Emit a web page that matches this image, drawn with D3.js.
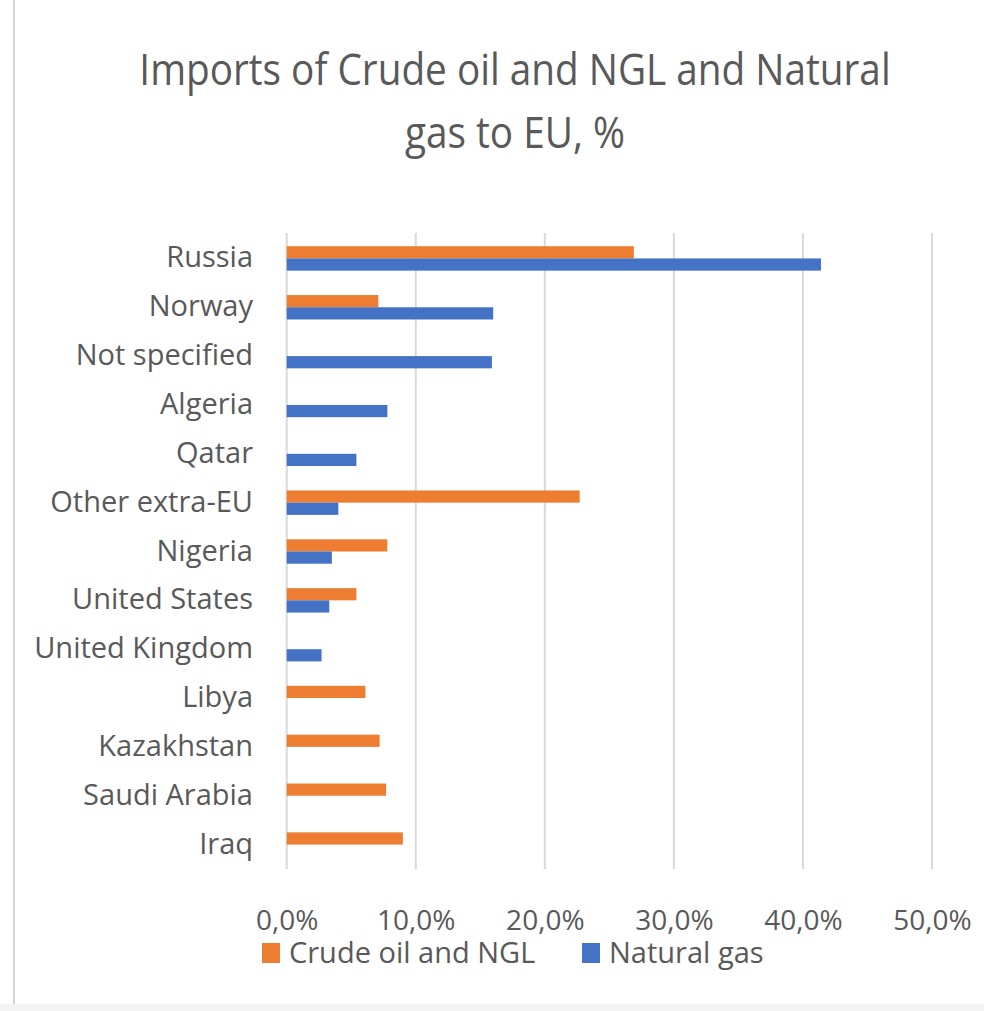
<!DOCTYPE html>
<html>
<head>
<meta charset="utf-8">
<script src="https://cdn.jsdelivr.net/npm/d3@7"></script>
<style>
  html, body { margin: 0; padding: 0; background: #fff; }
  svg { display: block; font-family: "Open Sans", sans-serif; }
</style>
</head>
<body>
<div id="chart"></div>
<script>
const categories = ["Russia", "Norway", "Not specified", "Algeria", "Qatar", "Other extra-EU",
  "Nigeria", "United States", "United Kingdom", "Libya", "Kazakhstan", "Saudi Arabia", "Iraq"];
const crudeOil = [26.9, 7.1, null, null, null, 22.7, 7.8, 5.4, null, 6.1, 7.2, 7.7, 9.0];
const naturalGas = [41.4, 16.0, 15.9, 7.8, 5.4, 4.0, 3.5, 3.3, 2.7, null, null, null, null];
const seriesNames = ["Crude oil and NGL", "Natural gas"];
const xTicks = [0, 10, 20, 30, 40, 50];
const titleLines = ["Imports of Crude oil and NGL and Natural", "gas to EU, %"];

const W = 984, H = 1011;
const colors = ["#ED7D31", "#4472C4"];
const textColor = "#595959";

const svg = d3.select("#chart").append("svg").attr("width", W).attr("height", H);
svg.append("rect").attr("width", W).attr("height", H).attr("fill", "#fff");

// frame edges
svg.append("rect").attr("x", 0).attr("y", 1004).attr("width", W).attr("height", 7).attr("fill", "#f3f3f3");
svg.append("line").attr("x1", 14).attr("x2", 14).attr("y1", 0).attr("y2", 1004)
  .attr("stroke", "#d4d4d4").attr("stroke-width", 2);

// title
const titleY = [85, 148];
titleLines.forEach((t, i) => {
  svg.append("text")
    .attr("transform", `translate(515,${titleY[i]}) scale(0.88,1)`)
    .attr("text-anchor", "middle")
    .attr("font-size", 44)
    .attr("fill", textColor)
    .text(t);
});

const x = d3.scaleLinear().domain([0, 50]).range([286.7, 932]);
const y = d3.scaleBand().domain(categories).range([234, 869]).paddingInner(0.5).paddingOuter(0.25);
const ySub = d3.scaleBand().domain(seriesNames).range([0, y.bandwidth()]);

// gridlines
svg.append("g").selectAll("line").data(xTicks).join("line")
  .attr("x1", d => x(d)).attr("x2", d => x(d))
  .attr("y1", 233).attr("y2", 869)
  .attr("stroke", "#d9d9d9").attr("stroke-width", 2);

// bars
const series = [crudeOil, naturalGas];
series.forEach((vals, si) => {
  svg.append("g").selectAll("rect")
    .data(categories.map((c, i) => ({ c, v: vals[i] })).filter(d => d.v != null))
    .join("rect")
    .attr("x", x(0))
    .attr("y", d => y(d.c) + ySub(seriesNames[si]))
    .attr("width", d => x(d.v) - x(0))
    .attr("height", ySub.bandwidth())
    .attr("fill", colors[si]);
});

// category labels
const yAxis = d3.axisLeft(y).tickSize(0).tickPadding(0);
const gy = svg.append("g").attr("transform", "translate(253,0)").call(yAxis);
gy.select(".domain").remove();
gy.selectAll("text")
  .attr("font-family", "Open Sans, sans-serif")
  .attr("font-size", 29)
  .attr("fill", textColor)
  .attr("dy", 9);

// x tick labels
const fmt = d => d3.format(".1f")(d).replace(".", ",") + "%";
const xAxis = d3.axisBottom(x).tickValues(xTicks).tickFormat(fmt).tickSize(0).tickPadding(0);
const gx = svg.append("g").attr("transform", "translate(0,930)").call(xAxis);
gx.select(".domain").remove();
gx.selectAll("text")
  .attr("font-family", "Open Sans, sans-serif")
  .attr("font-size", 28)
  .attr("fill", textColor)
  .attr("dy", 0)
  .attr("y", 0);

// legend
const legendX = [262, 582];
seriesNames.forEach((name, i) => {
  const g = svg.append("g").attr("transform", `translate(${legendX[i]},943)`);
  g.append("rect").attr("width", 18).attr("height", 20).attr("fill", colors[i]);
  g.append("text").attr("x", 27).attr("y", 20)
    .attr("font-size", 29).attr("fill", textColor).text(name);
});
</script>
</body>
</html>
